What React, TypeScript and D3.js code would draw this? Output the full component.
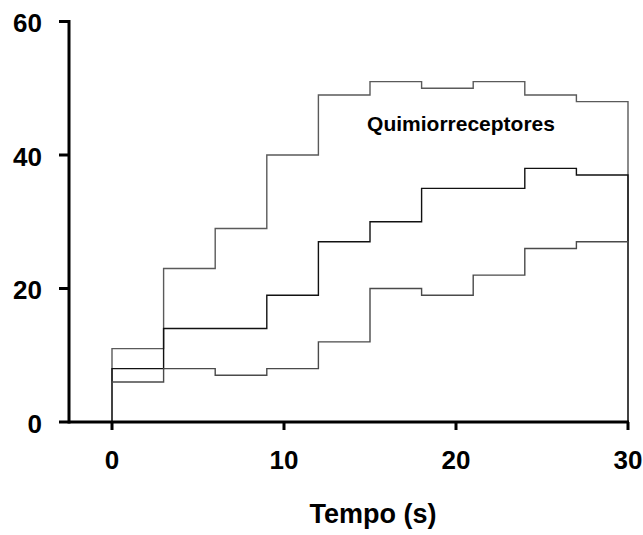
import React from "react";
import * as d3 from "d3";

const binStarts = [0, 3, 6, 9, 12, 15, 18, 21, 24, 27];
const binEnd = 30;
const seriesTop = [11, 23, 29, 40, 49, 51, 50, 51, 49, 48];
const seriesMid = [8, 14, 14, 19, 27, 30, 35, 35, 38, 37];
const seriesLow = [6, 8, 7, 8, 12, 20, 19, 22, 26, 27];
const seriesColors = ["#5a5a5a", "#111111", "#4a4a4a"];
const xTicks = [0, 10, 20, 30];
const yTicks = [0, 20, 40, 60];
const xTitle = "Tempo (s)";
const annotation = "Quimiorreceptores";

export default function App() {
  const W = 643, H = 535;
  const x = d3.scaleLinear().domain([0, 30]).range([112, 628]);
  const y = d3.scaleLinear().domain([0, 60]).range([422, 21.5]);
  const axisX = 69;
  const font = "'Liberation Sans', Arial, sans-serif";

  const line = d3
    .line<[number, number]>()
    .x((d) => x(d[0]))
    .y((d) => y(d[1]))
    .curve(d3.curveStepAfter);

  const makePts = (vals: number[]): [number, number][] => {
    const pts: [number, number][] = [[binStarts[0], 0]];
    binStarts.forEach((b, i) => pts.push([b, vals[i]]));
    pts.push([binEnd, vals[vals.length - 1]]);
    pts.push([binEnd, 0]);
    return pts;
  };

  const all = [seriesTop, seriesMid, seriesLow];

  return (
    <svg width={W} height={H} style={{ position: "absolute", left: 0, top: 0, background: "#fff" }}>
      {all.map((s, i) => (
        <path key={i} d={line(makePts(s)) || ""} fill="none" stroke={seriesColors[i]} strokeWidth={1.4} />
      ))}
      {/* y axis */}
      <line x1={axisX} x2={axisX} y1={y(60) - 1.5} y2={y(0) + 1.5} stroke="#000" strokeWidth={3} />
      {yTicks.map((t) => (
        <g key={t}>
          <line x1={59} x2={axisX} y1={y(t)} y2={y(t)} stroke="#000" strokeWidth={3} />
          <text x={42} y={y(t) + 10.5} textAnchor="end" fontFamily={font} fontWeight="bold" fontSize={26}>
            {t}
          </text>
        </g>
      ))}
      {/* x axis */}
      <line x1={axisX} x2={x(30) + 1} y1={y(0)} y2={y(0)} stroke="#000" strokeWidth={3} />
      {xTicks.map((t) => (
        <g key={t}>
          <line x1={x(t)} x2={x(t)} y1={y(0)} y2={y(0) + 8} stroke="#000" strokeWidth={3} />
          <text x={x(t)} y={469} textAnchor="middle" fontFamily={font} fontWeight="bold" fontSize={26}>
            {t}
          </text>
        </g>
      ))}
      <text x={373} y={523} textAnchor="middle" fontFamily={font} fontWeight="bold" fontSize={27}>
        {xTitle}
      </text>
      <text x={461} y={131} textAnchor="middle" fontFamily={font} fontWeight="bold" fontSize={21}>
        {annotation}
      </text>
    </svg>
  );
}
